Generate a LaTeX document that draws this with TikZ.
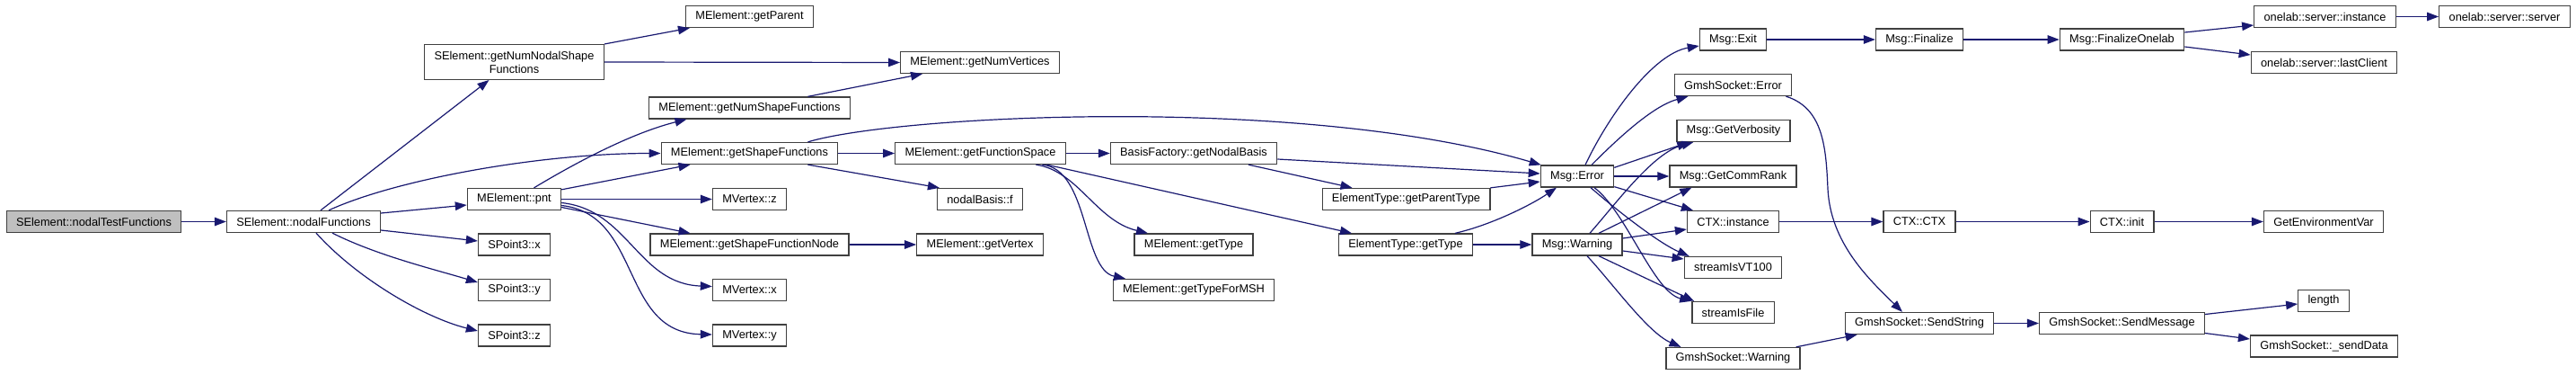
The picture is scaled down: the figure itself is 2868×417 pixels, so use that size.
\documentclass[tikz,border=0pt]{standalone}
\usepackage{fontspec}
\setmainfont{Liberation Sans}
\usetikzlibrary{positioning,arrows.meta,calc}
\definecolor{CallBlue}{HTML}{191970}
\definecolor{FnBorder}{HTML}{404040}
\definecolor{RootGray}{HTML}{BFBFBF}
\tikzset{
  fn/.style={draw=FnBorder, line width=1.3pt, fill=white, inner xsep=10.8pt, inner ysep=0pt,
             minimum height=24pt, align=center, font=\fontsize{12.8}{15}\selectfont},
  fnroot/.style={fn, fill=RootGray},
  call/.style={-{Triangle[length=13pt,width=9.5pt]}, line width=1.2pt, CallBlue},
}
\begin{document}
\begin{tikzpicture}[x=1pt, y=-1pt]
  \useasboundingbox (0,0) rectangle (2868,417);
  % columns of the call graph
  \node[fnroot] (nTF) at (104.5,246.5) {SElement::nodalTestFunctions};
  \node[fn] (nF) at (338,246.5) {SElement::nodalFunctions};
  \node[fn, minimum height=38.7pt] (gNNSF) at (572.5,69) {SElement::getNumNodalShape\\Functions};
  \node[fn] (pnt) at (572.5,221.5) {MElement::pnt};
  \node[fn] (SPx) at (572.5,272) {SPoint3::x};
  \node[fn] (SPy) at (572.5,322.5) {SPoint3::y};
  \node[fn] (SPz) at (572.5,373) {SPoint3::z};
  \node[fn] (gP) at (834.5,18.5) {MElement::getParent};
  \node[fn] (gNSF) at (834.5,120) {MElement::getNumShapeFunctions};
  \node[fn] (gSF) at (834.5,170.5) {MElement::getShapeFunctions};
  \node[fn] (MVz) at (834.5,221.5) {MVertex::z};
  \node[fn] (gSFN) at (834.5,272) {MElement::getShapeFunctionNode};
  \node[fn] (MVx) at (834.5,322.5) {MVertex::x};
  \node[fn] (MVy) at (834.5,373) {MVertex::y};
  \node[fn] (gNV) at (1091,69.5) {MElement::getNumVertices};
  \node[fn] (gFS) at (1091.5,170.5) {MElement::getFunctionSpace};
  \node[fn] (nBf) at (1091,221.5) {nodalBasis::f};
  \node[fn] (gV) at (1091,272) {MElement::getVertex};
  \node[fn] (gNB) at (1329,170.5) {BasisFactory::getNodalBasis};
  \node[fn] (gT) at (1329,272) {MElement::getType};
  \node[fn] (gTM) at (1329,322.5) {MElement::getTypeForMSH};
  \node[fn] (ETgPT) at (1565.5,221.5) {ElementType::getParentType};
  \node[fn] (ETgT) at (1565,272) {ElementType::getType};
  \node[fn] (MErr) at (1756,196) {Msg::Error};
  \node[fn] (MWarn) at (1756,272) {Msg::Warning};
  \node[fn] (MExit) at (1929.5,44) {Msg::Exit};
  \node[fn] (GSErr) at (1929.5,94.5) {GmshSocket::Error};
  \node[fn] (GVerb) at (1930,145.5) {Msg::GetVerbosity};
  \node[fn] (GCR) at (1929.5,196) {Msg::GetCommRank};
  \node[fn] (CTXi) at (1929.5,246.5) {CTX::instance};
  \node[fn] (sVT) at (1929.5,297.5) {streamIsVT100};
  \node[fn] (sF) at (1929.5,347.5) {streamIsFile};
  \node[fn] (GSW) at (1929.5,398.5) {GmshSocket::Warning};
  \node[fn] (MFin) at (2137,44) {Msg::Finalize};
  \node[fn] (CTXC) at (2137,246.5) {CTX::CTX};
  \node[fn] (SS) at (2137,359.5) {GmshSocket::SendString};
  \node[fn] (MFO) at (2362.5,44) {Msg::FinalizeOnelab};
  \node[fn] (CTXinit) at (2362.5,246.5) {CTX::init};
  \node[fn] (SM) at (2362.5,359.5) {GmshSocket::SendMessage};
  \node[fn] (osi) at (2588.5,18.5) {onelab::server::instance};
  \node[fn] (olc) at (2587.5,69.5) {onelab::server::lastClient};
  \node[fn] (GEV) at (2587,246.5) {GetEnvironmentVar};
  \node[fn] (len) at (2587,334.5) {length};
  \node[fn] (sD) at (2587.5,385) {GmshSocket::\_sendData};
  \node[fn] (oss) at (2788.5,18.5) {onelab::server::server};
  \coordinate (bendSS) at (2035,210);

  % calls out of the first three columns
  \draw[call] (nTF) -- (nF);
  \draw[call] ($(nF.north)+(19,0)$) -- ($(gNNSF.south)+(-28,0)$);
  \draw[call] ($(nF.north)+(28,0)$) .. controls +(74,-34) and +(-135,0) .. (gSF.west);
  \draw[call] ($(nF.east)+(0,-9.5)$) -- ($(pnt.west)+(0,6.5)$);
  \draw[call] ($(nF.east)+(0,9.5)$) -- ($(SPx.west)+(0,-4)$);
  \draw[call] ($(nF.south)+(32,0)$) .. controls +(50,25) and +(-50,-15) .. ($(SPy.west)+(0,-8.5)$);
  \draw[call] ($(nF.south)+(14,0)$) .. controls +(45,50) and +(-60,-15) .. ($(SPz.west)+(0,-5)$);
  \draw[call] (gNNSF.north east) -- ($(gP.south west)+(5,0)$);
  \draw[call] (gNNSF.east) -- (gNV.west);
  \draw[call] ($(gNSF.north)+(65,0)$) -- ($(gNV.south)+(-64,0)$);
  \draw[call] ($(pnt.north)+(22,0)$) .. controls +(50,-30) and +(-60,15) .. ($(gNSF.south)+(-70,0)$);
  \draw[call] ($(pnt.north east)+(0,2)$) -- ($(gSF.south)+(-66,0)$);
  \draw[call] (pnt) -- (MVz);
  \draw[call] ($(pnt.east)+(0,9)$) -- ($(gSFN.north)+(-66,0)$);
  \draw[call] ($(pnt.east)+(0,4)$) .. controls +(75,8) and +(-83,-3) .. ($(MVx.west)+(0,-4)$);
  \draw[call] ($(pnt.east)+(0,7)$) .. controls +(90,10) and +(-103,-2) .. ($(MVy.west)+(0,-1)$);

  % shape functions and element types
  \draw[call] ($(gSF.north)+(65,0)$) .. controls +(100,-30) and +(-267,-78) .. ($(MErr.north west)+(1,0)$);
  \draw[call] (gSF) -- (gFS);
  \draw[call] ($(gSF.south)+(65,0)$) -- ($(nBf.north west)+(3,0)$);
  \draw[call] (gFS) -- (gNB);
  \draw[call] ($(gFS.south)+(62,0)$) .. controls +(47,7) and +(-58,-14) .. ($(gT.north)+(-51,0)$);
  \draw[call] ($(gFS.south)+(69,0)$) .. controls +(52,5) and +(-48,-10) .. ($(gTM.north)+(-76,0)$);
  \draw[call] ($(gFS.south)+(74,0)$) -- ($(ETgT.north)+(-60,0)$);
  \draw[call] ($(gNB.east)+(0,6.5)$) -- ($(MErr.west)+(0,-3)$);
  \draw[call] ($(gNB.south)+(61,0)$) -- ($(ETgPT.north)+(-60,0)$);
  \draw[call] (ETgPT.north east) -- ($(MErr.west)+(0,6)$);
  \draw[call] ($(ETgT.north)+(55,0)$) .. controls +(40,-9) and +(-28,19) .. ($(MErr.south)+(-23,0)$);
  \draw[call] (ETgT) -- (MWarn);
  \draw[call] (gSFN) -- (gV);

  % Msg::Error
  \draw[call] ($(MErr.north)+(9,0)$) .. controls +(25,-53) and +(-52,9) .. ($(MExit.west)+(0,7)$);
  \draw[call] ($(MErr.north)+(16,0)$) .. controls +(28,-28) and +(-40,11) .. ($(GSErr.south)+(-50,0)$);
  \draw[call] ($(MErr.north east)+(0,3)$) -- ($(GVerb.south west)+(14,0)$);
  \draw[call] (MErr) -- (GCR);
  \draw[call] ($(MErr.south east)+(0,-1)$) -- ($(CTXi.north west)+(7,0)$);
  \draw[call] ($(MErr.south)+(15,0)$) .. controls +(24,21) and +(-35,-15) .. ($(sVT.north west)+(6,0)$);
  \draw[call] ($(MErr.south)+(19,0)$) .. controls +(35,26) and +(-42,-10) .. (sF.north west);

  % Msg::Warning
  \draw[call] ($(MWarn.north)+(14,0)$) .. controls +(30,-34) and +(-45,12) .. ($(GVerb.south west)+(19,0)$);
  \draw[call] ($(MWarn.north)+(24,0)$) -- ($(GCR.south west)+(25,0)$);
  \draw[call] ($(MWarn.east)+(0,-7)$) -- ($(CTXi.west)+(0,8.5)$);
  \draw[call] ($(MWarn.east)+(0,7)$) -- ($(sVT.west)+(0,-9.5)$);
  \draw[call] ($(MWarn.south)+(24,0)$) -- ($(sF.north west)+(3,0)$);
  \draw[call] ($(MWarn.south)+(11,0)$) .. controls +(28,30) and +(-37,-16) .. ($(GSW.north)+(-58,0)$);

  % right-hand chains
  \draw[call] (MExit) -- (MFin); \draw[call] (MFin) -- (MFO);
  \draw[call] ($(MFO.east)+(0,-8)$) -- ($(osi.west)+(0,9.5)$);
  \draw[call] ($(MFO.east)+(0,8)$) -- ($(olc.west)+(0,-8.5)$);
  \draw[call] (osi) -- (oss);
  \draw[call] ($(GSErr.south east)+(-7,0)$) .. controls +(42,13) and +(-2,-45) .. (bendSS)
    .. controls +(3,60) and +(-38,-37) .. ($(SS.north)+(-19,0)$);
  \draw[call] ($(GSW.north east)+(-5,0)$) -- ($(SS.south west)+(14,0)$);
  \draw[call] (CTXi) -- (CTXC); \draw[call] (CTXC) -- (CTXinit); \draw[call] (CTXinit) -- (GEV);
  \draw[call] (SS) -- (SM);
  \draw[call] ($(SM.east)+(0,-10)$) -- ($(len.west)+(0,3.5)$);
  \draw[call] ($(SM.east)+(0,11)$) -- ($(sD.west)+(0,-8)$);
\end{tikzpicture}
\end{document}
